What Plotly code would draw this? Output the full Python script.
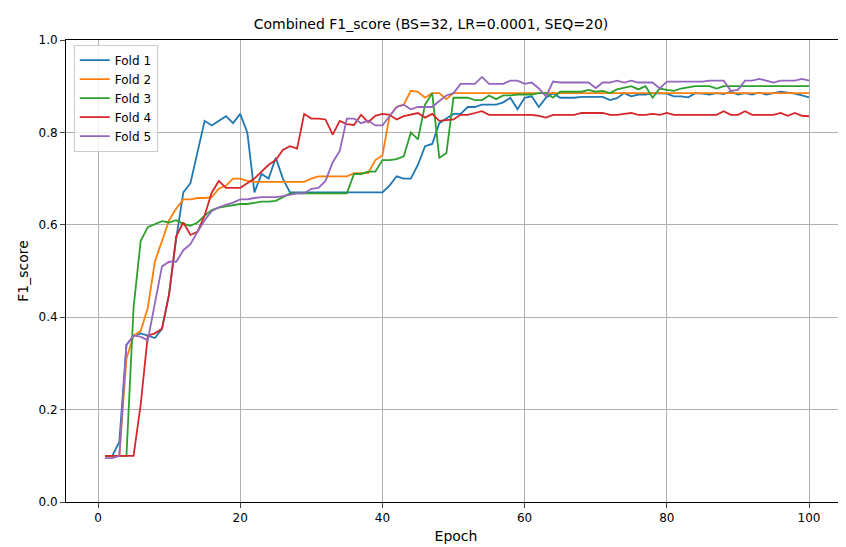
import plotly.graph_objects as go

epochs = list(range(1, 101))

fold1 = [0.10, 0.10, 0.13, 0.34, 0.36, 0.365, 0.36, 0.355, 0.375, 0.45,
         0.57, 0.67, 0.69, 0.76, 0.825, 0.815, 0.825, 0.835, 0.82, 0.84,
         0.80, 0.67, 0.71, 0.70, 0.745, 0.70, 0.67, 0.67, 0.67, 0.67,
         0.67, 0.67, 0.67, 0.67, 0.67, 0.67, 0.67, 0.67, 0.67, 0.67,
         0.685, 0.705, 0.70, 0.70, 0.73, 0.77, 0.775, 0.82, 0.83, 0.84,
         0.84, 0.855, 0.855, 0.86, 0.86, 0.86, 0.865, 0.875, 0.85, 0.875,
         0.878, 0.855, 0.875, 0.885, 0.875, 0.875, 0.875, 0.877, 0.877, 0.877,
         0.877, 0.87, 0.874, 0.885, 0.878, 0.882, 0.882, 0.885, 0.885, 0.884,
         0.878, 0.878, 0.876, 0.885, 0.884, 0.882, 0.885, 0.883, 0.888, 0.882,
         0.885, 0.882, 0.886, 0.882, 0.885, 0.888, 0.886, 0.884, 0.880, 0.876]

fold2 = [0.10, 0.10, 0.10, 0.31, 0.36, 0.37, 0.42, 0.52, 0.565, 0.61,
         0.635, 0.655, 0.655, 0.658, 0.658, 0.66, 0.678, 0.685, 0.70, 0.70,
         0.695, 0.693, 0.693, 0.693, 0.693, 0.693, 0.693, 0.693, 0.693, 0.70,
         0.705, 0.705, 0.705, 0.705, 0.705, 0.712, 0.712, 0.712, 0.74, 0.75,
         0.835, 0.855, 0.86, 0.89, 0.888, 0.875, 0.885, 0.885, 0.872, 0.885,
         0.885, 0.885, 0.885, 0.885, 0.885, 0.885, 0.885, 0.885, 0.885, 0.885,
         0.885, 0.885, 0.885, 0.885, 0.885, 0.885, 0.885, 0.885, 0.885, 0.885,
         0.885, 0.885, 0.885, 0.885, 0.885, 0.885, 0.885, 0.885, 0.885, 0.885,
         0.885, 0.885, 0.885, 0.885, 0.885, 0.885, 0.885, 0.885, 0.885, 0.885,
         0.885, 0.885, 0.885, 0.885, 0.885, 0.885, 0.885, 0.885, 0.885, 0.885]

fold3 = [0.10, 0.10, 0.10, 0.10, 0.42, 0.565, 0.595, 0.602, 0.608, 0.605,
         0.61, 0.602, 0.598, 0.605, 0.62, 0.632, 0.637, 0.64, 0.642, 0.645,
         0.645, 0.647, 0.65, 0.65, 0.652, 0.66, 0.668, 0.668, 0.668, 0.668,
         0.668, 0.668, 0.668, 0.668, 0.668, 0.71, 0.71, 0.715, 0.715, 0.74,
         0.74, 0.742, 0.748, 0.80, 0.785, 0.86, 0.885, 0.745, 0.755, 0.875,
         0.875, 0.875, 0.87, 0.87, 0.88, 0.872, 0.88, 0.88, 0.882, 0.882,
         0.882, 0.885, 0.885, 0.875, 0.888, 0.888, 0.888, 0.888, 0.892, 0.888,
         0.89, 0.885, 0.893, 0.897, 0.90, 0.893, 0.90, 0.875, 0.895, 0.892,
         0.89, 0.895, 0.898, 0.90, 0.90, 0.90, 0.895, 0.90, 0.90, 0.90,
         0.90, 0.90, 0.90, 0.90, 0.90, 0.90, 0.90, 0.90, 0.90, 0.90]

fold4 = [0.10, 0.10, 0.10, 0.10, 0.10, 0.21, 0.36, 0.365, 0.375, 0.45,
         0.575, 0.605, 0.578, 0.585, 0.62, 0.67, 0.695, 0.68, 0.68, 0.68,
         0.69, 0.70, 0.715, 0.73, 0.74, 0.762, 0.77, 0.765, 0.84, 0.83,
         0.83, 0.828, 0.795, 0.825, 0.818, 0.816, 0.838, 0.822, 0.836, 0.84,
         0.838, 0.828, 0.835, 0.838, 0.842, 0.832, 0.84, 0.825, 0.826, 0.828,
         0.838, 0.838, 0.842, 0.846, 0.838, 0.838, 0.838, 0.838, 0.838, 0.838,
         0.838, 0.836, 0.832, 0.838, 0.838, 0.838, 0.838, 0.842, 0.842, 0.842,
         0.842, 0.838, 0.838, 0.84, 0.842, 0.838, 0.838, 0.84, 0.838, 0.842,
         0.838, 0.838, 0.838, 0.838, 0.838, 0.838, 0.838, 0.846, 0.838, 0.838,
         0.846, 0.838, 0.838, 0.838, 0.838, 0.842, 0.836, 0.842, 0.836, 0.835]

fold5 = [0.095, 0.095, 0.10, 0.34, 0.36, 0.358, 0.35, 0.43, 0.51, 0.52,
         0.52, 0.545, 0.558, 0.585, 0.61, 0.63, 0.638, 0.643, 0.648, 0.655,
         0.655, 0.658, 0.66, 0.66, 0.66, 0.662, 0.665, 0.668, 0.668, 0.678,
         0.68, 0.695, 0.735, 0.76, 0.83, 0.83, 0.82, 0.825, 0.815, 0.815,
         0.835, 0.855, 0.86, 0.85, 0.855, 0.855, 0.855, 0.868, 0.88, 0.885,
         0.905, 0.905, 0.905, 0.92, 0.905, 0.905, 0.905, 0.912, 0.912, 0.905,
         0.908, 0.895, 0.878, 0.91, 0.908, 0.908, 0.908, 0.908, 0.908, 0.896,
         0.908, 0.908, 0.912, 0.908, 0.912, 0.908, 0.908, 0.908, 0.895, 0.91,
         0.91, 0.91, 0.91, 0.91, 0.91, 0.912, 0.912, 0.912, 0.89, 0.892,
         0.912, 0.912, 0.916, 0.912, 0.908, 0.912, 0.912, 0.912, 0.916, 0.912]

names = ["Fold 1", "Fold 2", "Fold 3", "Fold 4", "Fold 5"]
colors = ["#1f77b4", "#ff7f0e", "#2ca02c", "#d62728", "#9467bd"]

fig = go.Figure()
for name, ys, c in zip(names, [fold1, fold2, fold3, fold4, fold5], colors):
    fig.add_trace(go.Scatter(x=epochs, y=ys, mode="lines", name=name,
                             line=dict(color=c, width=1.8)))

fig.update_layout(
    width=846, height=547,
    margin=dict(l=58, r=8, t=32, b=53, autoexpand=False),
    plot_bgcolor="#fff", paper_bgcolor="#fff",
    font=dict(family="DejaVu Sans", size=12, color="black"),
    title=dict(text="Combined F1_score (BS=32, LR=0.0001, SEQ=20)",
               x=0.5, xanchor="center", y=0.97, yanchor="middle",
               font=dict(size=14)),
    legend=dict(x=0.01, y=0.99, xanchor="left", yanchor="top",
                bordercolor="#ccc", borderwidth=1, bgcolor="rgba(255,255,255,0.8)",
                font=dict(size=12)),
)
fig.update_xaxes(title_text="Epoch", title_standoff=6, automargin=False,
                 range=[-4.5, 105.2], tickvals=[0, 20, 40, 60, 80, 100],
                 showgrid=True, gridcolor="#b0b0b0", zeroline=False,
                 showline=True, linecolor="black", mirror=True, ticks="outside")
fig.update_yaxes(title_text="F1_score", title_standoff=6, automargin=False,
                 range=[0, 1], tickvals=[0, 0.2, 0.4, 0.6, 0.8, 1.0],
                 tickformat=".1f", showgrid=True, gridcolor="#b0b0b0", zeroline=False,
                 showline=True, linecolor="black", mirror=True, ticks="outside")

fig.write_html("out.html")
